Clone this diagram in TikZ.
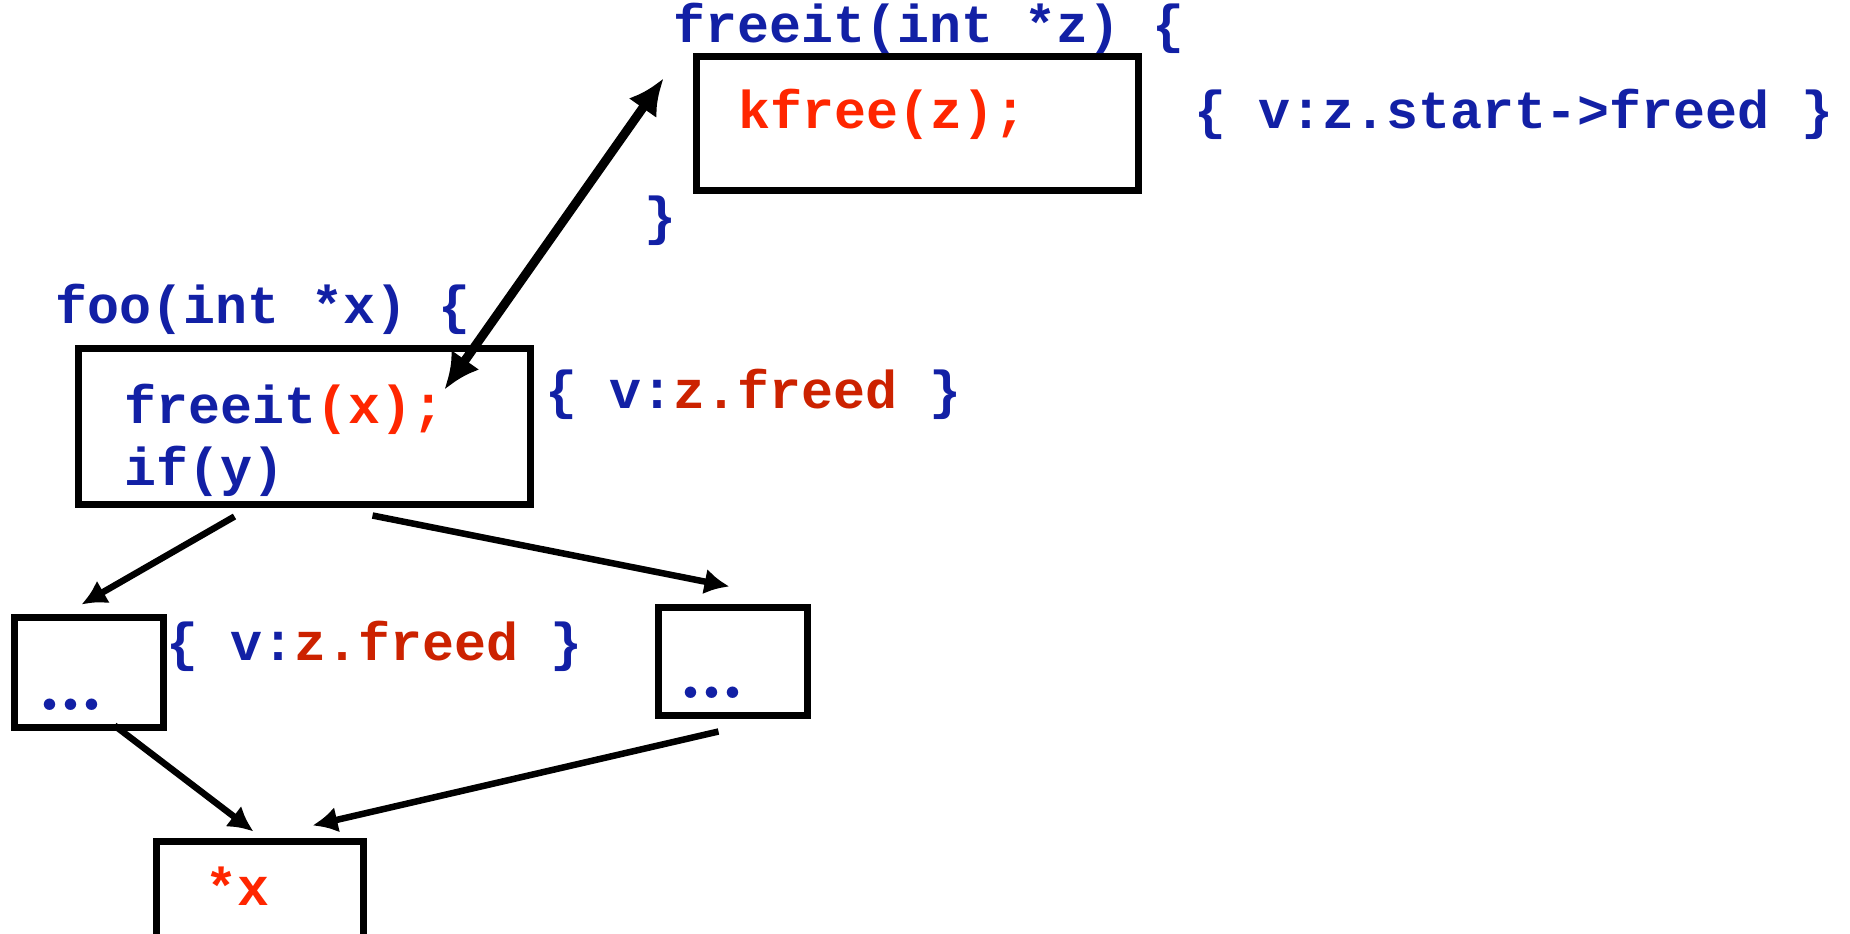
\documentclass[tikz,border=0pt]{standalone}
\usepackage{fontspec}
\setmonofont{Liberation Mono}
\usetikzlibrary{arrows.meta}
\definecolor{cblue}{RGB}{18,32,165}
\definecolor{cred}{RGB}{255,38,0}
\definecolor{dred}{RGB}{204,34,0}
\newcommand{\tightdots}{{\fontsize{80}{88}\selectfont\rmfamily\bfseries .\kern-4pt.\kern-4pt.}}
\begin{document}
\begin{tikzpicture}[x=1pt,y=-1pt,
  code/.style={font=\fontsize{53.3}{60}\selectfont\ttfamily\bfseries, inner sep=0pt, anchor=base west, text=cblue},
  box/.style={draw=black, line width=7pt, inner sep=0pt, fill=none},
  arr/.style={line width=6.5pt, -{Latex[length=25pt,width=26pt]}},
  bigarr/.style={line width=9pt, {Latex[length=36pt,width=34pt]}-{Latex[length=36pt,width=34pt]}}]
\clip (0,0) rectangle (1850,934);
\useasboundingbox (0,0) rectangle (1850,934);
% boxes
\node[box, minimum width=442pt, minimum height=134pt] (fbox) at (917.5,123.5) {};
\node[box, minimum width=452pt, minimum height=156pt] (foobox) at (304.5,426.5) {};
\node[box, minimum width=149pt, minimum height=110pt] (lbox) at (89,672.5) {};
\node[box, minimum width=149pt, minimum height=108pt] (rbox) at (733,661.5) {};
\node[box, minimum width=207pt, minimum height=103.5pt] (xbox) at (260,893.25) {};
% texts
\node[code] (hfree) at (673,43) {freeit(int *z) \{};
\node[code] (kfree) at (738,128) {\textcolor{cred}{kfree(z);}};
\node[code] (ann1) at (1194,128) {\{ v:z.start->freed \}};
\node[code] (close) at (644,234) {\}};
\node[code] (hfoo) at (55,323) {foo(int *x) \{};
\node[code] (call) at (124,423) {freeit\textcolor{cred}{(x);}};
\node[code] (ify) at (124,485) {if(y)};
\node[code] (ann2) at (545,408) {\{ v:\textcolor{dred}{z.freed} \}};
\node[code] (ann3) at (166,660) {\{ v:\textcolor{dred}{z.freed} \}};
\node[code] (ldots) at (37,710) {\tightdots};
\node[code] (rdots) at (678,698) {\tightdots};
\node[code] (star) at (205,905) {\textcolor{cred}{*x}};
% connectors
\draw[bigarr] ([shift={(369.5,44.5)}]foobox.north west) -- ([shift={(-29.5,25.5)}]fbox.north west);
\draw[arr] ([shift={(159.5,8.5)}]foobox.south west) -- ([shift={(70.5,-9.5)}]lbox.north west);
\draw[arr] ([shift={(297.5,7.5)}]foobox.south west) -- ([shift={(74.5,-17.5)}]rbox.north west);
\draw[arr] ([shift={(103.5,-5.5)}]lbox.south west) -- ([shift={(100.5,-6.5)}]xbox.north west);
\draw[arr] ([shift={(63.5,12.5)}]rbox.south west) -- ([shift={(159.5,-12.5)}]xbox.north west);
\end{tikzpicture}
\end{document}
